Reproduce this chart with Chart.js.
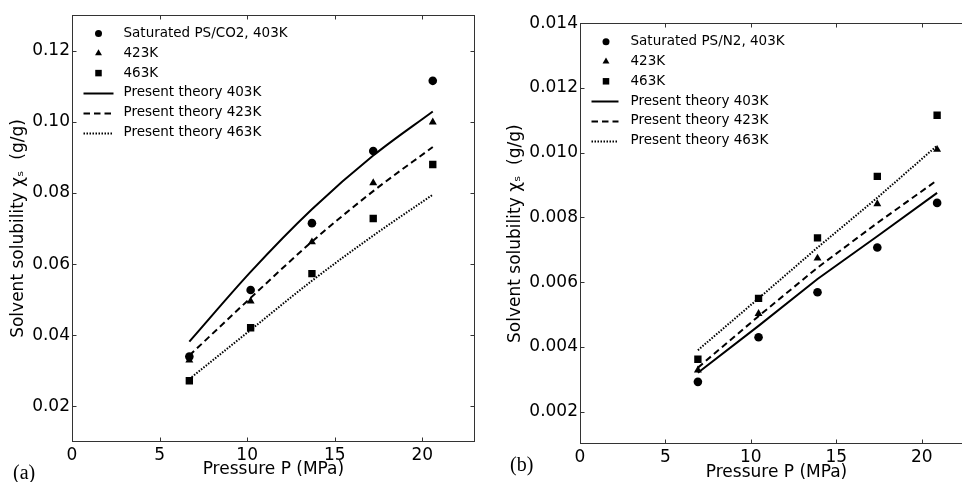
<!DOCTYPE html>
<html>
<head>
<meta charset="utf-8">
<script src="https://cdn.jsdelivr.net/npm/chart.js@4.4.1/dist/chart.umd.min.js"></script>
<style>
  html, body { margin: 0; padding: 0; background: #fff; overflow: hidden; }
  #wrap { position: relative; width: 962px; height: 482px; overflow: hidden; }
  canvas { position: absolute; top: 0; }
  #chartA { left: 0; }
  #chartB { left: 480px; }
  .panel { position: absolute; font: 20px 'Liberation Serif', 'DejaVu Serif', serif; line-height: 20px; color: #000; }
</style>
</head>
<body>
<div id="wrap">
  <canvas id="chartA" width="480" height="482"></canvas>
  <canvas id="chartB" width="500" height="482"></canvas>
  <div class="panel" style="left:13px; top:462px;">(a)</div>
  <div class="panel" style="left:510px; top:454px;">(b)</div>
</div>
<script>
// panel (a): PS/CO2
const pressureA = [6.7, 10.2, 13.7, 17.2, 20.6];
const co2at403 = [0.0340, 0.0527, 0.0715, 0.0918, 0.1115];
const co2at423 = [0.0330, 0.0496, 0.0662, 0.0828, 0.0999];
const co2at463 = [0.0272, 0.0421, 0.0573, 0.0728, 0.0880];
const co2Theory403 = [0.0382, 0.0578, 0.0754, 0.0905, 0.1029];
const co2Theory423 = [0.0343, 0.0505, 0.0663, 0.0805, 0.0929];
const co2Theory463 = [0.0277, 0.0415, 0.0553, 0.0680, 0.0795];

// panel (b): PS/N2
const pressureB = [6.9, 10.45, 13.9, 17.4, 20.9];
const n2at403 = [0.00292, 0.00430, 0.00569, 0.00707, 0.00845];
const n2at423 = [0.00328, 0.00503, 0.00674, 0.00842, 0.01010];
const n2at463 = [0.00362, 0.00550, 0.00737, 0.00927, 0.01116];
const n2Theory403 = [0.00320, 0.00465, 0.00610, 0.00742, 0.00876];
const n2Theory423 = [0.00336, 0.00495, 0.00645, 0.00783, 0.00915];
const n2Theory463 = [0.00390, 0.00550, 0.00707, 0.00861, 0.01022];

const xTicks = [0, 5, 10, 15, 20];
const yTicksA = [0.02, 0.04, 0.06, 0.08, 0.10, 0.12];
const yTicksB = [0.002, 0.004, 0.006, 0.008, 0.010, 0.012, 0.014];

const labelsA = ['Saturated PS/CO2, 403K', '423K', '463K',
  'Present theory 403K', 'Present theory 423K', 'Present theory 463K'];
const labelsB = ['Saturated PS/N2, 403K', '423K', '463K',
  'Present theory 403K', 'Present theory 423K', 'Present theory 463K'];

const FONT = "'DejaVu Sans', sans-serif";
Chart.defaults.font.family = FONT;
Chart.defaults.color = '#000';

const toXY = (xs, ys) => xs.map((x, i) => ({ x, y: ys[i] }));

function markerSet(xs, ys, label, style, radius) {
  return {
    label, data: toXY(xs, ys), showLine: false,
    pointStyle: style, pointRadius: radius, pointHoverRadius: radius,
    backgroundColor: '#000', borderWidth: 0,
  };
}

function lineSet(xs, ys, label, dash, curved) {
  return {
    label, data: toXY(xs, ys), showLine: true, pointRadius: 0,
    borderColor: '#000', borderWidth: 2, borderDash: dash,
    cubicInterpolationMode: curved ? 'monotone' : 'default', tension: 0,
  };
}

// frame with inward ticks on all four sides (matplotlib style)
const framePlugin = {
  id: 'frame',
  afterDraw(chart) {
    const { ctx, chartArea: a, scales: { x, y } } = chart;
    const L = Math.round(a.left) + 0.5, R = Math.round(a.right) - 0.5;
    const T = Math.round(a.top) + 0.5, B = Math.round(a.bottom) - 0.5;
    ctx.save();
    ctx.strokeStyle = '#333';
    ctx.lineWidth = 1;
    ctx.strokeRect(L, T, R - L, B - T);
    ctx.beginPath();
    x.ticks.forEach(t => {
      const px = Math.round(x.getPixelForValue(t.value)) + 0.5;
      ctx.moveTo(px, B); ctx.lineTo(px, B - 4);
      ctx.moveTo(px, T); ctx.lineTo(px, T + 4);
    });
    y.ticks.forEach(t => {
      const py = Math.round(y.getPixelForValue(t.value)) + 0.5;
      ctx.moveTo(L, py); ctx.lineTo(L + 4, py);
      ctx.moveTo(R, py); ctx.lineTo(R - 4, py);
    });
    ctx.stroke();
    ctx.restore();
  }
};

// legend drawn inside the plot area, upper left
const boxLegend = {
  id: 'boxLegend',
  afterDraw(chart, args, opts) {
    const { ctx } = chart;
    ctx.save();
    ctx.font = '13.5px ' + FONT;
    ctx.textBaseline = 'middle';
    ctx.fillStyle = '#000';
    chart.data.datasets.forEach((ds, i) => {
      const yy = opts.y + i * opts.rowH;
      if (ds.showLine) {
        ctx.strokeStyle = '#000';
        ctx.lineWidth = 2;
        ctx.setLineDash(ds.borderDash || []);
        ctx.beginPath();
        ctx.moveTo(opts.handleX0, Math.round(yy) + 0.5);
        ctx.lineTo(opts.handleX1, Math.round(yy) + 0.5);
        ctx.stroke();
        ctx.setLineDash([]);
      } else {
        const r = { circle: 3.5, triangle: 4, rect: 4.6 }[ds.pointStyle];
        Chart.helpers.drawPoint(ctx, { pointStyle: ds.pointStyle, radius: r, rotation: 0, borderWidth: 0 },
          opts.markerX, yy);
      }
      ctx.fillText(ds.label, opts.textX, yy);
    });
    ctx.restore();
  }
};

function makeChart(id, cfg) {
  return new Chart(document.getElementById(id), {
    type: 'scatter',
    data: { datasets: cfg.datasets },
    options: {
      responsive: false,
      animation: false,
      events: [],
      layout: { padding: cfg.padding },
      plugins: {
        legend: { display: false },
        tooltip: { enabled: false },
        boxLegend: cfg.legend,
      },
      scales: {
        x: {
          type: 'linear', min: 0, max: 23,
          afterBuildTicks: s => { s.ticks = xTicks.map(v => ({ value: v })); },
          afterFit: s => { s.height = cfg.xHeight; },
          grid: { display: false, drawTicks: false },
          border: { display: false },
          ticks: { font: { size: 17 }, padding: 3, maxRotation: 0 },
          title: {
            display: true, text: cfg.xTitle,
            font: { size: 17, lineHeight: 1 }, padding: { top: 0, bottom: cfg.xTitlePad },
          },
        },
        y: {
          type: 'linear', min: cfg.yMin, max: cfg.yMax,
          afterBuildTicks: s => { s.ticks = cfg.yTicks.map(v => ({ value: v })); },
          afterFit: s => { s.width = cfg.yWidth; },
          grid: { display: false, drawTicks: false },
          border: { display: false },
          ticks: { font: { size: 17 }, padding: 2, callback: v => v.toFixed(cfg.digits) },
          title: {
            display: true, text: 'Solvent solubility χₛ  (g/g)',
            font: { size: 17, lineHeight: 1 }, padding: { top: cfg.yTitlePad, bottom: 0 },
          },
        },
      },
    },
    plugins: [framePlugin, boxLegend],
  });
}

makeChart('chartA', {
  datasets: [
    markerSet(pressureA, co2at403, labelsA[0], 'circle', 4.3),
    markerSet(pressureA, co2at423, labelsA[1], 'triangle', 4.6),
    markerSet(pressureA, co2at463, labelsA[2], 'rect', 5.2),
    lineSet(pressureA, co2Theory403, labelsA[3], [], true),
    lineSet(pressureA, co2Theory423, labelsA[4], [6.5, 4], true),
    lineSet(pressureA, co2Theory463, labelsA[5], [1.5, 1.5], true),
  ],
  padding: { left: 0, top: 15, right: 4, bottom: 0 },
  xHeight: 40, yWidth: 72,
  yMin: 0.01, yMax: 0.13, yTicks: yTicksA, digits: 2,
  xTitle: 'Pressure P (MPa)', xTitlePad: 4, yTitlePad: 10,
  legend: { markerX: 98.5, handleX0: 83.5, handleX1: 113.5, textX: 123.5, y: 33.5, rowH: 19.8 },
});

makeChart('chartB', {
  datasets: [
    markerSet(pressureB, n2at403, labelsB[0], 'circle', 4.3),
    markerSet(pressureB, n2at423, labelsB[1], 'triangle', 4.6),
    markerSet(pressureB, n2at463, labelsB[2], 'rect', 5.2),
    lineSet(pressureB, n2Theory403, labelsB[3], [], false),
    lineSet(pressureB, n2Theory423, labelsB[4], [6.5, 4], false),
    lineSet(pressureB, n2Theory463, labelsB[5], [1.5, 1.5], false),
  ],
  padding: { left: 0, top: 23.3, right: 7, bottom: 0 },
  xHeight: 38, yWidth: 100,
  yMin: 0.001, yMax: 0.014, yTicks: yTicksB, digits: 3,
  xTitle: 'Pressure P (MPa)', xTitlePad: 1, yTitlePad: 27,
  legend: { markerX: 126, handleX0: 111.5, handleX1: 138.5, textX: 150.5, y: 41.7, rowH: 19.8 },
});
</script>
</body>
</html>
